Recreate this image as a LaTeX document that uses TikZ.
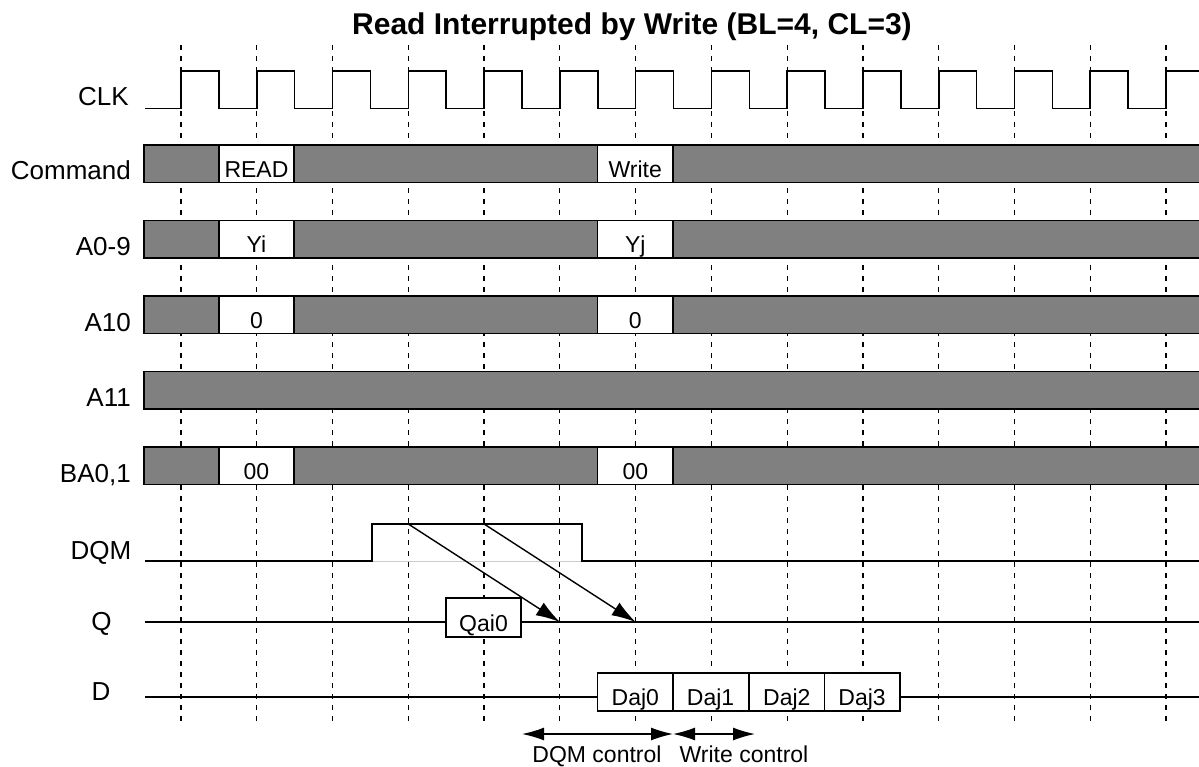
\documentclass[tikz,border=0pt]{standalone}
\usepackage{fontspec}
\setmainfont{Liberation Sans}
\usepackage{xcolor}
\usepackage{tikz}
\usetikzlibrary{arrows.meta}
\usetikzlibrary{positioning}
\tikzset{>=latex}
\definecolor{busgray}{RGB}{128,128,128}
\newcommand{\lblfont}{\fontsize{26}{30}\selectfont}
\newcommand{\boxfont}{\fontsize{23}{27}\selectfont}
\tikzset{
  sig/.style={line width=1.6pt},
  tickline/.style={line width=1.2pt, dash pattern=on 5pt off 6pt},
  busbar/.style={draw, line width=1.6pt, fill=busgray},
  wbox/.style={draw, fill=white, line width=1.6pt, inner sep=0pt,
    minimum width=75.5pt, minimum height=37.5pt,
    text height=27pt, text depth=0pt, font=\boxfont},
  siglabel/.style={anchor=base east, inner sep=0pt, font=\lblfont},
  bigtip/.style={-{Latex[length=24pt,width=15pt]}, line width=1.4pt},
  ctrltip/.style={{Latex[length=22pt,width=13pt]}-{Latex[length=22pt,width=13pt]}, line width=1.4pt}
}

\begin{document}
\begin{tikzpicture}[x=1pt, y=-1pt]
  \useasboundingbox (0,0) rectangle (1199,767);

  % title
  \node[anchor=base west, inner sep=0pt, font=\bfseries\fontsize{30}{36}\selectfont] (title) at (352,35) {Read Interrupted by Write (BL=4, CL=3)};

  % clock ticks
  \foreach \k in {0,...,13}
    \draw[tickline] ({181+75.77*\k},45) -- ({181+75.77*\k},723);

  % signal names
  \node[siglabel] (clk-name) at (129,105.7) {CLK};
  \node[siglabel] (cmd-name) at (131,180) {Command};
  \node[siglabel] (addr-name) at (131,255.5) {A0-9};
  \node[siglabel] (a10-name) at (131,331) {A10};
  \node[siglabel] (a11-name) at (131,406.5) {A11};
  \node[siglabel] (ba-name) at (131,482) {BA0,1};
  \node[siglabel] (dqm-name) at (131.5,559) {DQM};
  \node[anchor=base, inner sep=0pt, font=\lblfont] (q-name) at (101.5,630.5) {Q};
  \node[anchor=base, inner sep=0pt, font=\lblfont] (d-name) at (101,700) {D};

  % CLK
  \draw[sig] (145,108.7)
    \foreach \k in {0,...,12}{ -- ({181+75.77*\k},108.7) -- ++(0,-37.7) -- ++(37.9,0) -- ++(0,37.7) }
    -- (1166,108.7) -- (1166,71) -- (1205,71);

  % bus rows
  \foreach \top in {145,220.5,296,371.5,447}
    \draw[busbar] (144,\top) rectangle (1205,\top+37.5);

  \node[wbox] (cmd-read) at (256.5,163.75) {READ};
  \node[wbox] (cmd-write) at (635.3,163.75) {Write};
  \node[wbox] (addr-i) at (256.5,239.25) {Yi};
  \node[wbox] (addr-j) at (635.3,239.25) {Yj};
  \node[wbox] (a10-i) at (256.5,314.75) {0};
  \node[wbox] (a10-j) at (635.3,314.75) {0};
  \node[wbox] (ba-i) at (256.5,465.75) {00};
  \node[wbox] (ba-j) at (635.3,465.75) {00};

  % DQM
  \draw[gray!40, line width=1pt] (371.7,561) -- (582,561);
  \draw[sig] (145,561) -- (371.7,561) -- (371.7,524) -- (582,524) -- (582,561) -- (1205,561);

  % Q
  \draw[sig] (145,622) -- (1205,622);
  \node[wbox, minimum width=75pt, minimum height=39pt] (q-ai0) at (483.5,617.5) {Qai0};

  % D
  \draw[sig] (145,697) -- (1205,697);
  \node[wbox, minimum height=38pt] (d-aj0) at (635.3,692) {Daj0};
  \node[wbox, minimum height=38pt] (d-aj1) at (710.6,692) {Daj1};
  \node[wbox, minimum height=38pt] (d-aj2) at (786.8,692) {Daj2};
  \node[wbox, minimum height=38pt] (d-aj3) at (862.1,692) {Daj3};

  % DQM latency
  \coordinate (mask-a) at (408.3,524);
  \coordinate (mask-b) at (484.1,524);
  \coordinate (out-a) at (559.9,622);
  \coordinate (out-b) at (635.6,622);
  \draw[bigtip] (mask-a) -- (out-a);
  \draw[bigtip] (mask-b) -- (out-b);

  % control windows
  \coordinate (dqm-start) at (522,734);
  \coordinate (ctrl-split) at (673,734);
  \coordinate (wr-end) at (755,734);
  \draw[ctrltip] (dqm-start) -- (ctrl-split);
  \draw[ctrltip] (ctrl-split) -- (wr-end);
  \node[anchor=base, inner sep=0pt, font=\boxfont] (dqm-ctrl) at (597,762) {DQM control};
  \node[anchor=base, inner sep=0pt, font=\boxfont] (wr-ctrl) at (744,762) {Write control};
\end{tikzpicture}
\end{document}
